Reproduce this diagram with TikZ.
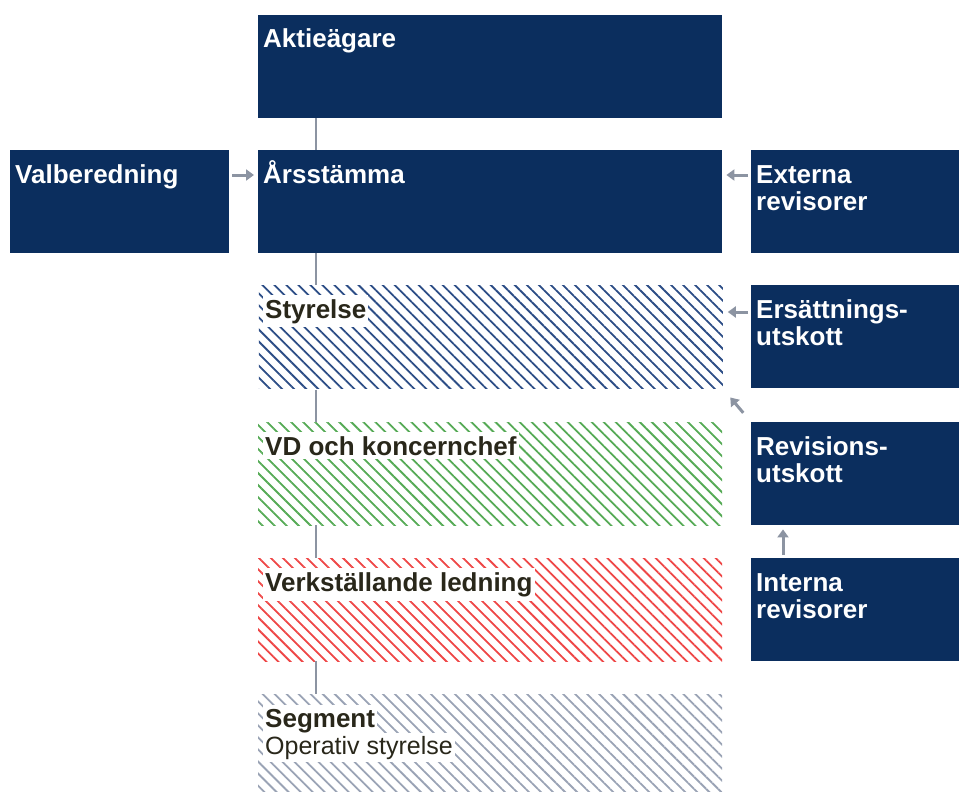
\documentclass[tikz,border=0pt]{standalone}
\usepackage{fontspec}
\setmainfont{Liberation Sans}
\usetikzlibrary{arrows.meta, positioning, patterns.meta}
\definecolor{boardnavy}{HTML}{0B2E5E}
\definecolor{linkgrey}{HTML}{8C94A2}
\definecolor{hatchblue}{HTML}{2C4D86}
\definecolor{hatchgreen}{HTML}{55AA55}
\definecolor{hatchred}{HTML}{EE4646}
\definecolor{hatchgrey}{HTML}{9AA3B5}
\definecolor{darktext}{HTML}{29271A}

\begin{document}
\begin{tikzpicture}[x=1pt, y=-1pt,
  navybox/.style={rectangle, fill=boardnavy, anchor=north west, minimum height=103pt, inner sep=0pt},
  hatchbox/.style={rectangle, anchor=north west, minimum width=464pt, minimum height=103pt, inner sep=0pt,
    pattern={Lines[angle=-45, distance=8.5pt, line width=1.8pt]}},
  boxtext/.style={anchor=base west, text=white, font=\fontsize{26}{27}\selectfont\bfseries, align=left, inner sep=0pt},
  hatchtext/.style={anchor=base west, text=darktext, fill=white, font=\fontsize{26}{27}\selectfont\bfseries, inner xsep=2pt, inner ysep=4pt},
  subtext/.style={anchor=base west, text=darktext, fill=white, font=\fontsize{25}{27}\selectfont, inner xsep=2pt, inner ysep=3pt},
  link/.style={draw=linkgrey, line width=2pt},
  arrow/.style={-{Triangle[length=8pt, width=11pt]}, draw=linkgrey, line width=3pt}
]
  \useasboundingbox (0,0) rectangle (959,792);
  \clip (0,0) rectangle (959,792);

  % Main column
  \node[navybox, minimum width=464pt] (aktie) at (258,15) {};
  \node[navybox, minimum width=464pt] (arsstamma) at (258,150) {};
  \node[hatchbox, pattern color=hatchblue] (styrelse) at (258,285) {};
  \node[hatchbox, pattern color=hatchgreen] (vd) at (258,422) {};
  \node[hatchbox, pattern color=hatchred] (ledning) at (258,558) {};
  \node[hatchbox, pattern color=hatchgrey] (segment) at (258,694) {};

  % Side boxes
  \node[navybox, minimum width=219pt] (valb) at (10,150) {};
  \node[navybox, minimum width=208pt] (externa) at (751,150) {};
  \node[navybox, minimum width=208pt] (ersutsk) at (751,285) {};
  \node[navybox, minimum width=208pt] (revutsk) at (751,422) {};
  \node[navybox, minimum width=208pt] (interna) at (751,558) {};

  % Labels (two-line labels sit on their last baseline)
  \node[boxtext] (aktielbl) at ([xshift=5pt, yshift=-33pt]aktie.north west) {Aktieägare};
  \node[boxtext] (arslbl) at ([xshift=5pt, yshift=-33pt]arsstamma.north west) {Årsstämma};
  \node[boxtext] (valblbl) at ([xshift=5pt, yshift=-33pt]valb.north west) {Valberedning};
  \node[boxtext] (extlbl) at ([xshift=5pt, yshift=-60pt]externa.north west) {Externa\\revisorer};
  \node[boxtext] (erslbl) at ([xshift=5pt, yshift=-60pt]ersutsk.north west) {Ersättnings-\\utskott};
  \node[boxtext] (revlbl) at ([xshift=5pt, yshift=-60pt]revutsk.north west) {Revisions-\\utskott};
  \node[boxtext] (intlbl) at ([xshift=5pt, yshift=-60pt]interna.north west) {Interna\\revisorer};
  \node[hatchtext] (styrlbl) at ([xshift=5pt, yshift=-33pt]styrelse.north west) {Styrelse};
  \node[hatchtext] (vdlbl) at ([xshift=5pt, yshift=-33pt]vd.north west) {VD och koncernchef};
  \node[hatchtext] (ledlbl) at ([xshift=5pt, yshift=-33pt]ledning.north west) {Verkställande ledning};
  \node[hatchtext] (seglbl) at ([xshift=5pt, yshift=-33pt]segment.north west) {Segment};
  \node[subtext] (oplbl) at ([xshift=5pt, yshift=-60pt]segment.north west) {Operativ styrelse};

  % Vertical links
  \draw[link] ([xshift=58pt]aktie.south west) -- ([xshift=58pt]arsstamma.north west);
  \draw[link] ([xshift=58pt]arsstamma.south west) -- ([xshift=58pt]styrelse.north west);
  \draw[link] ([xshift=58pt]styrelse.south west) -- ([xshift=58pt]vd.north west);
  \draw[link] ([xshift=58pt]vd.south west) -- ([xshift=58pt]ledning.north west);
  \draw[link] ([xshift=58pt]ledning.south west) -- ([xshift=58pt]segment.north west);

  % Arrows
  \draw[arrow, shorten <=3pt, shorten >=4pt] ([yshift=-25pt]valb.north east) -- ([yshift=-25pt]arsstamma.north west);
  \draw[arrow, shorten <=3pt, shorten >=4pt] ([yshift=-25pt]externa.north west) -- ([yshift=-25pt]arsstamma.north east);
  \draw[arrow, shorten <=3pt, shorten >=4pt] ([yshift=-27pt]ersutsk.north west) -- ([yshift=-27pt]styrelse.north east);
  \draw[arrow, shorten <=12pt, shorten >=10pt] (revutsk.north west) -- (styrelse.south east);
  \draw[arrow, shorten <=3pt, shorten >=4pt] ([xshift=32pt]interna.north west) -- ([xshift=32pt]revutsk.south west);
\end{tikzpicture}
\end{document}
